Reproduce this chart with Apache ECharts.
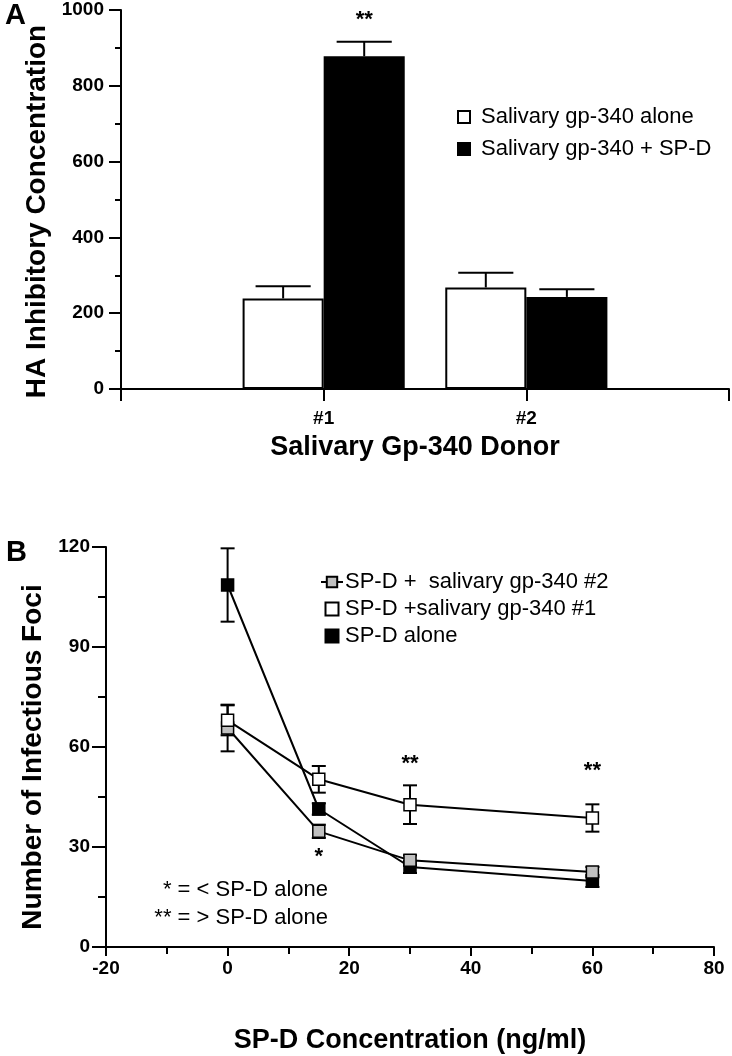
<!DOCTYPE html>
<html>
<head>
<meta charset="utf-8">
<script src="https://cdn.jsdelivr.net/npm/echarts@6/dist/echarts.min.js"></script>
<style>
html,body{margin:0;padding:0;background:#fff;}
#chart{width:732px;height:1056px;}
</style>
</head>
<body>
<div id="chart"></div>
<script>
// ---------- Panel A data ----------
const donorCats = ['', '#1', '#2', ''];
const aloneMean = [null, 239, 268, null];
const aloneErr = [null, 32, 39, null];
const spdMean = [null, 878, 243, null];
const spdErr = [null, 38, 20, null];
const sigA = ['', '**', '', ''];

// ---------- Panel B data ----------
const conc = [0, 15, 30, 60];
const gp2Mean = [65.7, 34.7, 26.0, 22.5];
const gp2Err = [7.0, 2.0, 1.5, 1.5];
const gp1Mean = [68.0, 50.3, 42.7, 38.7];
const gp1Err = [4.5, 4.0, 5.8, 4.1];
const aloneBMean = [108.6, 41.4, 24.0, 19.8];
const aloneBErr = [11.0, 1.7, 1.8, 1.8];
const sigBText = ['*', '**', '**'];
const sigBX = [15, 30, 60];
const sigBY = [27, 55, 52.8];

const FONT = '"Liberation Sans", Arial, sans-serif';
const chart = echarts.init(document.getElementById('chart'));

function errA(means, errs, groupIdx) {
  const data = [];
  means.forEach((m, i) => { if (m != null) data.push([i, m, errs[i], groupIdx]); });
  return data;
}
const errDataA = errA(aloneMean, aloneErr, 0).concat(errA(spdMean, spdErr, 1));

function renderErrA(params, api) {
  const cat = api.value(0), m = api.value(1), e = api.value(2), g = api.value(3);
  const band = api.size([1, 0])[0];
  const bw = band * 0.4;
  const off = (g - 0.5) * bw;
  const base = api.coord([cat, m]);
  const top = api.coord([cat, m + e]);
  const x = base[0] + off;
  const half = bw * 0.34;
  const children = [
    {type: 'line', shape: {x1: x, y1: base[1], x2: x, y2: top[1]}, style: {stroke: '#000', lineWidth: 2}},
    {type: 'line', shape: {x1: x - half, y1: top[1], x2: x + half, y2: top[1]}, style: {stroke: '#000', lineWidth: 2}}
  ];
  const s = g === 1 ? sigA[cat] : '';
  if (s) {
    children.push({type: 'text', style: {text: s, x: x, y: top[1] - 22, textAlign: 'center', textVerticalAlign: 'middle',
      font: 'bold 22px ' + FONT, fill: '#000'}});
  }
  return {type: 'group', children: children};
}

function errB(means, errs) {
  return conc.map((c, i) => [c, means[i], errs[i]]);
}
function renderErrB(params, api) {
  const x = api.value(0), m = api.value(1), e = api.value(2);
  const hi = api.coord([x, m + e]);
  const lo = api.coord([x, m - e]);
  const half = 7;
  const st = {stroke: '#000', lineWidth: 2};
  return {type: 'group', children: [
    {type: 'line', shape: {x1: hi[0], y1: hi[1], x2: lo[0], y2: lo[1]}, style: st},
    {type: 'line', shape: {x1: hi[0] - half, y1: hi[1], x2: hi[0] + half, y2: hi[1]}, style: st},
    {type: 'line', shape: {x1: lo[0] - half, y1: lo[1], x2: lo[0] + half, y2: lo[1]}, style: st}
  ]};
}
function renderSigB(params, api) {
  const p = api.coord([api.value(0), api.value(1)]);
  return {type: 'text', style: {text: sigBText[params.dataIndex], x: p[0], y: p[1], textAlign: 'center',
    textVerticalAlign: 'middle', font: 'bold 22px ' + FONT, fill: '#000'}};
}

const axisLineStyle = {show: true, onZero: false, lineStyle: {color: '#000', width: 2}};
const tickLbl = {color: '#000', fontFamily: FONT, fontWeight: 'bold', fontSize: 19, formatter: v => String(v)};
const sq = 'path://M0,0h10v10h-10z';

const lineSeries = (name, means, fill, z) => ({
  name: name, type: 'line', xAxisIndex: 1, yAxisIndex: 1,
  data: conc.map((c, i) => [c, means[i]]),
  symbol: 'rect', symbolSize: 12,
  lineStyle: {color: '#000', width: 2},
  itemStyle: {color: fill, borderColor: '#000', borderWidth: 1.5},
  z: z
});

const option = {
  animation: false,
  backgroundColor: '#fff',
  title: [
    {text: 'A', left: 0, top: -4, textStyle: {fontFamily: FONT, fontWeight: 'bold', fontSize: 29, color: '#000'}},
    {text: 'B', left: 1, top: 533, textStyle: {fontFamily: FONT, fontWeight: 'bold', fontSize: 29, color: '#000'}}
  ],
  legend: [
    {
      orient: 'vertical', left: 452, top: 101, itemGap: 10, itemWidth: 12, itemHeight: 12,
      data: [{name: 'Salivary gp-340 alone', icon: sq}, {name: 'Salivary gp-340 + SP-D', icon: sq}],
      textStyle: {fontFamily: FONT, fontSize: 22, color: '#000', padding: [0, 0, 0, 6]},
      selectedMode: false
    },
    {
      orient: 'vertical', left: 315, top: 566, itemGap: 5, itemWidth: 22, itemHeight: 13,
      data: [
        {name: 'SP-D +  salivary gp-340 #2'},
        {name: 'SP-D +salivary gp-340 #1', icon: sq},
        {name: 'SP-D alone', icon: sq}
      ],
      textStyle: {fontFamily: FONT, fontSize: 22, color: '#000', padding: [0, 0, 0, -3]},
      selectedMode: false
    }
  ],
  grid: [
    {left: 121, top: 10, width: 608, height: 379},
    {left: 106, top: 547, width: 608, height: 400}
  ],
  xAxis: [
    {
      gridIndex: 0, type: 'category', data: donorCats, boundaryGap: false,
      axisLine: axisLineStyle,
      axisTick: {show: true, length: 12, interval: 0, lineStyle: {color: '#000', width: 2}},
      axisLabel: {margin: 20, interval: 0, color: '#000', fontFamily: FONT, fontWeight: 'bold', fontSize: 19},
      splitLine: {show: false},
      name: 'Salivary Gp-340 Donor', nameLocation: 'middle', nameGap: 45,
      nameTextStyle: {fontFamily: FONT, fontWeight: 'bold', fontSize: 27, color: '#000', padding: [0, 20, 0, 0]}
    },
    {
      gridIndex: 1, type: 'value', min: -20, max: 80, interval: 20,
      axisLine: axisLineStyle,
      axisTick: {show: true, length: 9, lineStyle: {color: '#000', width: 2}},
      minorTick: {show: true, splitNumber: 2, length: 7, lineStyle: {color: '#000', width: 2}},
      axisLabel: Object.assign({margin: 12}, tickLbl),
      splitLine: {show: false},
      name: 'SP-D Concentration (ng/ml)', nameLocation: 'middle', nameGap: 80,
      nameTextStyle: {fontFamily: FONT, fontWeight: 'bold', fontSize: 27, color: '#000'}
    }
  ],
  yAxis: [
    {
      gridIndex: 0, type: 'value', min: 0, max: 1000, interval: 200,
      axisLine: axisLineStyle,
      axisTick: {show: true, length: 12, lineStyle: {color: '#000', width: 2}},
      minorTick: {show: true, splitNumber: 2, length: 6, lineStyle: {color: '#000', width: 2}},
      axisLabel: Object.assign({margin: 17}, tickLbl),
      splitLine: {show: false},
      name: 'HA Inhibitory Concentration', nameLocation: 'middle', nameGap: 62,
      nameTextStyle: {fontFamily: FONT, fontWeight: 'bold', fontSize: 28, color: '#000', padding: [0, 24, 0, 0]}
    },
    {
      gridIndex: 1, type: 'value', min: 0, max: 120, interval: 30,
      axisLine: axisLineStyle,
      axisTick: {show: true, length: 14, lineStyle: {color: '#000', width: 2}},
      minorTick: {show: true, splitNumber: 2, length: 8, lineStyle: {color: '#000', width: 2}},
      axisLabel: Object.assign({margin: 16}, tickLbl),
      splitLine: {show: false},
      name: 'Number of Infectious Foci', nameLocation: 'middle', nameGap: 48,
      nameTextStyle: {fontFamily: FONT, fontWeight: 'bold', fontSize: 28, color: '#000', padding: [0, 20, 0, 0]}
    }
  ],
  series: [
    {
      name: 'Salivary gp-340 alone', type: 'bar', xAxisIndex: 0, yAxisIndex: 0,
      data: aloneMean, barWidth: '40%', barGap: '0%',
      itemStyle: {color: '#fff', borderColor: '#000', borderWidth: 2}
    },
    {
      name: 'Salivary gp-340 + SP-D', type: 'bar', xAxisIndex: 0, yAxisIndex: 0,
      data: spdMean, barWidth: '40%', barGap: '0%',
      itemStyle: {color: '#000', borderColor: '#000', borderWidth: 2}
    },
    {type: 'custom', xAxisIndex: 0, yAxisIndex: 0, data: errDataA, renderItem: renderErrA, z: 5},
    {type: 'custom', xAxisIndex: 1, yAxisIndex: 1, data: errB(gp2Mean, gp2Err), renderItem: renderErrB, z: 1},
    {type: 'custom', xAxisIndex: 1, yAxisIndex: 1, data: errB(gp1Mean, gp1Err), renderItem: renderErrB, z: 1},
    {type: 'custom', xAxisIndex: 1, yAxisIndex: 1, data: errB(aloneBMean, aloneBErr), renderItem: renderErrB, z: 1},
    lineSeries('SP-D alone', aloneBMean, '#000', 3),
    lineSeries('SP-D +  salivary gp-340 #2', gp2Mean, '#c0c0c0', 4),
    lineSeries('SP-D +salivary gp-340 #1', gp1Mean, '#fff', 5),
    {
      type: 'custom', xAxisIndex: 1, yAxisIndex: 1, silent: true,
      data: sigBX.map((x, i) => [x, sigBY[i]]), renderItem: renderSigB, z: 6
    }
  ],
  graphic: [
    {type: 'text', right: 404, top: 876,
      style: {text: '* = < SP-D alone\n** = > SP-D alone', textAlign: 'right', font: '22px ' + FONT, fill: '#000', lineHeight: 28}}
  ]
};
chart.setOption(option);
</script>
</body>
</html>
